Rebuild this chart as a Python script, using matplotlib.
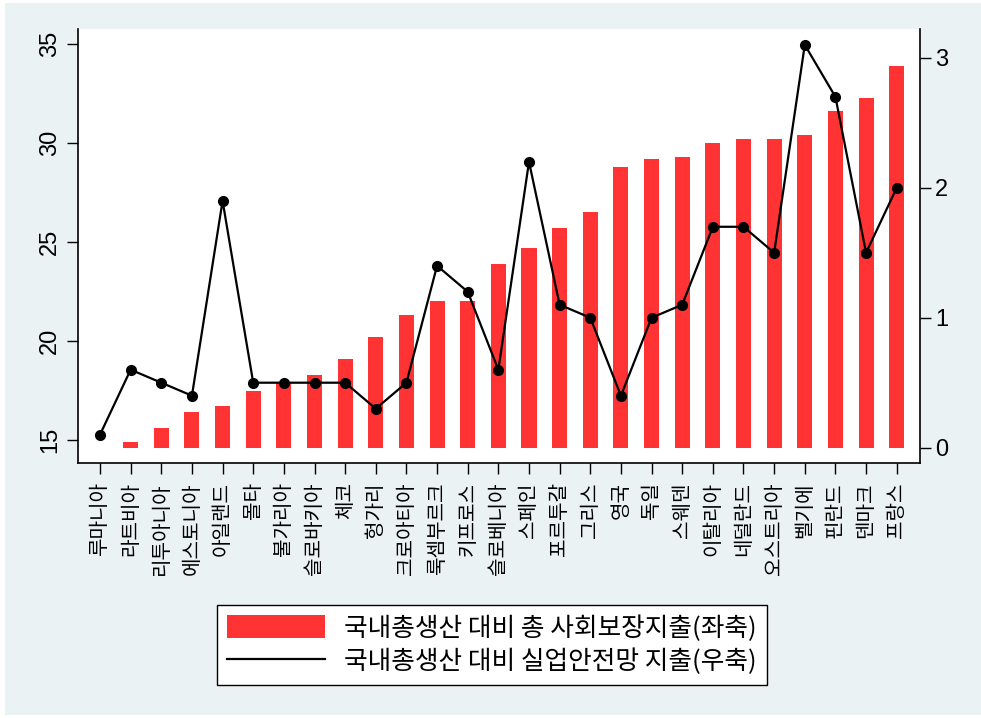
import matplotlib
matplotlib.use("Agg")
import matplotlib.pyplot as plt
from matplotlib.patches import Rectangle, Patch
from matplotlib.lines import Line2D
import numpy as np

plt.rcParams['font.family'] = ['Liberation Sans', 'Noto Sans CJK KR', 'DejaVu Sans']

countries = ['루마니아', '라트비아', '리투아니아', '에스토니아', '아일랜드', '몰타', '불가리아',
             '슬로바키아', '체코', '헝가리', '크로아티아', '룩셈부르크', '키프로스', '슬로베니아',
             '스페인', '포르투갈', '그리스', '영국', '독일', '스웨덴', '이탈리아', '네덜란드',
             '오스트리아', '벨기에', '핀란드', '덴마크', '프랑스']
social_exp = [14.6, 14.9, 15.6, 16.4, 16.7, 17.5, 17.9, 18.3, 19.1, 20.2, 21.3, 22.0, 22.0, 23.9,
              24.7, 25.7, 26.5, 28.8, 29.2, 29.3, 30.0, 30.2, 30.2, 30.4, 31.6, 32.3, 33.9]
unemp_exp = [0.1, 0.6, 0.5, 0.4, 1.9, 0.5, 0.5, 0.5, 0.5, 0.3, 0.5, 1.4, 1.2, 0.6,
             2.2, 1.1, 1.0, 0.4, 1.0, 1.1, 1.7, 1.7, 1.5, 3.1, 2.7, 1.5, 2.0]
left_ticks = [15, 20, 25, 30, 35]
right_ticks = [0, 1, 2, 3]
bar_base = 14.6

BG = '#EAF2F3'
RED = '#FF3333'

W, H = 981, 718
fig = plt.figure(figsize=(W / 100, H / 100), dpi=100)
fig.patch.set_facecolor('white')
fig.patches.append(Rectangle((5 / W, 3 / H), 1 - 5 / W, 1 - 6 / H, transform=fig.transFigure,
                             facecolor=BG, edgecolor='none', zorder=-10))

l, r, t, b = 78, 920, 28.5, 463
ax = fig.add_axes([l / W, 1 - b / H, (r - l) / W, (b - t) / H])
ax.set_facecolor('white')
x = np.arange(len(countries))
heights = [v - bar_base for v in social_exp]
ax.bar(x, heights, width=0.49, bottom=bar_base, color=RED, zorder=2)
ax.set_ylim(13.84, 35.79)
ax.set_xlim(-0.718, 26.76)
ax.set_yticks(left_ticks)
ax.set_yticklabels([str(v) for v in left_ticks], rotation=90, va='center', fontsize=17)
ax.set_xticks(x)
ax.set_xticklabels(countries, rotation=90, fontsize=14.5, va='top', ha='center',
                   family=['Noto Sans CJK KR', 'DejaVu Sans'])
ax.tick_params(axis='both', direction='out', length=8, width=1, color='black', pad=4)
ax.tick_params(axis='x', pad=6)
ax.spines['top'].set_visible(False)
ax.spines['right'].set_visible(False)
for s in ['left', 'bottom']:
    ax.spines[s].set_linewidth(1.2)

ax2 = ax.twinx()
ax2.plot(x, unemp_exp, color='black', lw=1.6, marker='o', markersize=7, zorder=3)
ax2.set_ylim(-0.118, 3.226)
ax2.set_yticks(right_ticks)
ax2.set_yticklabels([str(v) for v in right_ticks], fontsize=17)
ax2.tick_params(axis='y', direction='out', length=8, width=1, pad=3)
ax2.spines['top'].set_visible(False)
ax2.spines['left'].set_visible(False)
ax2.spines['bottom'].set_visible(False)
ax2.spines['right'].set_linewidth(1.2)

handles = [Patch(facecolor=RED, edgecolor='none'), Line2D([], [], color='black', lw=1.6)]
labels = ['국내총생산 대비 총 사회보장지출(좌축)', '국내총생산 대비 실업안전망 지출(우축)']
leg = fig.legend(handles, labels, loc='upper center', bbox_to_anchor=(492 / W, 1 - 605 / H),
                 frameon=True, fancybox=False, edgecolor='black', framealpha=1,
                 handlelength=3.8, handleheight=1.0, handletextpad=0.75, borderpad=0.4,
                 borderaxespad=0, labelspacing=0.25,
                 prop={'family': ['Noto Sans CJK KR', 'DejaVu Sans'], 'size': 18.5})
leg.get_frame().set_linewidth(1.0)

fig.savefig('out.png', dpi=100, facecolor=fig.get_facecolor())
